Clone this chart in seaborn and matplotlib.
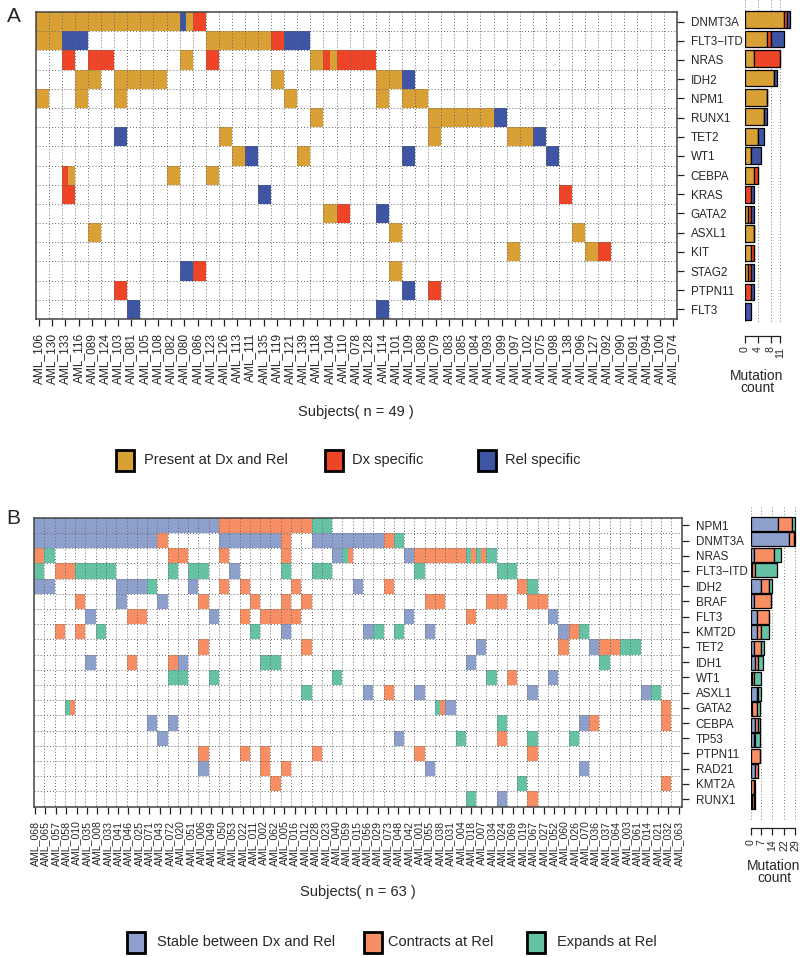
import numpy as np
import pandas as pd
import matplotlib
matplotlib.use("Agg")
import matplotlib.pyplot as plt
from matplotlib.colors import ListedColormap
from matplotlib.patches import Rectangle
import seaborn as sns

# ---------------- panel A data ----------------
subjects_a = ["AML_106", "AML_130", "AML_133", "AML_116", "AML_089", "AML_124", "AML_103",
              "AML_081", "AML_105", "AML_108", "AML_082", "AML_080", "AML_086", "AML_123",
              "AML_126", "AML_113", "AML_111", "AML_135", "AML_119", "AML_121", "AML_139",
              "AML_118", "AML_104", "AML_110", "AML_078", "AML_128", "AML_114", "AML_101",
              "AML_109", "AML_088", "AML_079", "AML_083", "AML_085", "AML_084", "AML_093",
              "AML_099", "AML_097", "AML_102", "AML_075", "AML_098", "AML_138", "AML_096",
              "AML_127", "AML_092", "AML_090", "AML_091", "AML_094", "AML_100", "AML_074"]
genes_a = ["DNMT3A", "FLT3\u2212ITD", "NRAS", "IDH2", "NPM1", "RUNX1", "TET2", "WT1",
           "CEBPA", "KRAS", "GATA2", "ASXL1", "KIT", "STAG2", "PTPN11", "FLT3"]
# one character per subject: P present at Dx and Rel, D Dx specific, R Rel specific
# b = R|P split cell, d = D|P split cell
grid_a = [
    "P" * 11 + "b" + "D" + "." * 36,
    "PPRR" + "." * 9 + "P" * 5 + "D" + "RR" + "." * 28,
    "..D.DD" + "." * 5 + "P" + "." + "D" + "." * 7 + "Pd" + "DDD" + "." * 23,
    "...PP.PPPP" + "." * 8 + "P" + "." * 7 + "PPR" + "." * 20,
    "P..P..P" + "." * 12 + "P" + "." * 6 + "P.PP" + "." * 19,
    "." * 21 + "P" + "." * 8 + "P" * 5 + "R" + "." * 13,
    "." * 6 + "R" + "." * 7 + "P" + "." * 15 + "P" + "." * 5 + "PPR" + "." * 10,
    "." * 15 + "PR..." + "P" + "." * 7 + "R" + "." * 10 + "R" + "." * 9,
    "..d" + "." * 7 + "P..P" + "." * 35,
    "..D" + "." * 14 + "R" + "." * 22 + "D" + "." * 8,
    "." * 22 + "PD..R" + "." * 22,
    "....P" + "." * 22 + "P" + "." * 13 + "P" + "." * 7,
    "." * 36 + "P" + "." * 5 + "PD" + "." * 5,
    "." * 11 + "RD" + "." * 14 + "P" + "." * 21,
    "." * 6 + "D" + "." * 21 + "R.D" + "." * 18,
    "." * 7 + "R" + "." * 18 + "R" + "." * 22,
]
status_a = ["P", "D", "R"]
labels_a = ["Present at Dx and Rel", "Dx specific", "Rel specific"]
colors_a = ["#D9A036", "#EE4428", "#3E55A4"]
split_a = {"b": "RP", "d": "DP"}
ticks_a = [0, 4, 8, 11]

# ---------------- panel B data ----------------
subjects_b = ["AML_068", "AML_065", "AML_057", "AML_058", "AML_010", "AML_035", "AML_008",
              "AML_033", "AML_041", "AML_046", "AML_025", "AML_071", "AML_043", "AML_072",
              "AML_020", "AML_051", "AML_006", "AML_049", "AML_050", "AML_053", "AML_022",
              "AML_011", "AML_002", "AML_062", "AML_005", "AML_016", "AML_012", "AML_028",
              "AML_023", "AML_040", "AML_059", "AML_015", "AML_056", "AML_029", "AML_073",
              "AML_048", "AML_042", "AML_001", "AML_055", "AML_038", "AML_031", "AML_004",
              "AML_018", "AML_007", "AML_034", "AML_024", "AML_069", "AML_019", "AML_067",
              "AML_027", "AML_052", "AML_060", "AML_026", "AML_070", "AML_036", "AML_037",
              "AML_064", "AML_003", "AML_061", "AML_014", "AML_021", "AML_032", "AML_063"]
genes_b = ["NPM1", "DNMT3A", "NRAS", "FLT3\u2212ITD", "IDH2", "BRAF", "FLT3", "KMT2D", "TET2",
           "IDH1", "WT1", "ASXL1", "GATA2", "CEBPA", "TP53", "PTPN11", "RAD21", "KMT2A", "RUNX1"]
# S stable, C contracts at Rel, E expands at Rel, x = E|C split cell
grid_b = [
    "S" * 18 + "C" * 9 + "EE" + "." * 34,
    "S" * 12 + "C" + "." * 5 + "S" * 6 + "C" + ".." + "S" * 7 + "CE" + "." * 27,
    "CE" + "." * 11 + "CC" + "..." + "C" + "." * 5 + "C" + "...." + "Sx" + "." * 5 + "S" + "C" * 5 + "xxE" + "." * 18,
    "E.CCEEEE" + "." * 5 + "E.EE" + ".." + "S" + "...." + "E.." + "EE" + "." * 8 + "E" + "." * 7 + "EE" + "." * 16,
    "SS" + "." * 6 + "SSSE" + "..." + "S" + ".." + "C.C" + "...." + "C" + "." * 5 + "S..C" + "." * 12 + "CE" + "." * 14,
    "....C" + "..." + "S...S" + "..." + "C" + "...." + "C..C.C" + "." * 11 + "CC" + "...." + "CC" + ".." + "CC" + "." * 13,
    "....." + "S" + "..." + "CC" + "." * 6 + "S.." + "C.CCCC" + "." * 10 + "S" + "." * 5 + "C" + "." * 7 + "S" + "." * 12,
    "..C.C.E" + "." * 14 + "E..S" + "." * 7 + "SE.E" + ".." + "S" + "." * 12 + "SCE" + "." * 9,
    "." * 16 + "C" + "." * 9 + "C" + "." * 16 + "S" + "." * 7 + "C.." + "SCCEE" + "....",
    "....." + "S" + "..." + "C" + "..." + "CS" + "." * 7 + "EE" + "." * 18 + "S" + "." * 12 + "E" + "." * 7,
    "." * 13 + "EE.." + "E" + "." * 11 + "E" + "." * 14 + "E.C" + "..." + "S" + "." * 12,
    "." * 26 + "E" + "." * 5 + "S.C..S" + "." * 10 + "S" + "." * 10 + "SE" + "..",
    "...x" + "." * 35 + "xS" + "." * 20 + "C.",
    "." * 11 + "S.S" + "." * 31 + "E" + "." * 7 + "SC" + "." * 6 + "C.",
    "." * 12 + "S" + "." * 22 + "S" + "." * 5 + "E...C..E...E" + "." * 10,
    "." * 16 + "C...C.C....C" + "." * 9 + "C" + "." * 10 + "C" + "." * 14,
    "." * 16 + "S" + "." * 5 + "C.C" + "." * 13 + "S" + "." * 14 + "S" + "." * 9,
    "." * 23 + "C" + "." * 23 + "E" + "." * 13 + "C.",
    "." * 42 + "E..S..C" + "." * 14,
]
status_b = ["S", "C", "E"]
labels_b = ["Stable between Dx and Rel", "Contracts at Rel", "Expands at Rel"]
colors_b = ["#8DA0CB", "#F78E64", "#66C2A5"]
split_b = {"x": "EC"}
ticks_b = [0, 7, 14, 22, 29]

W, H = 800, 958


def box(left, top, right, bottom):
    return [left / W, 1 - bottom / H, (right - left) / W, (bottom - top) / H]


def to_matrix(grid, statuses, splits):
    # two sub-columns per subject so split cells can show both calls
    code = {s: i + 1 for i, s in enumerate(statuses)}
    mat = np.zeros((len(grid), 2 * len(grid[0])))
    for i, row in enumerate(grid):
        for j, ch in enumerate(row):
            if ch == ".":
                continue
            pair = splits.get(ch, ch + ch)
            mat[i, 2 * j] = code[pair[0]]
            mat[i, 2 * j + 1] = code[pair[1]]
    return mat


def to_counts(grid, genes, statuses, splits):
    rows = []
    for row in grid:
        calls = "".join(splits.get(ch, ch) for ch in row if ch != ".")
        rows.append([calls.count(s) for s in statuses])
    return pd.DataFrame(rows, index=genes, columns=statuses)


def draw_panel(fig, grid, genes, subjects, statuses, colors, splits, ticks,
               heat_box, bar_box, bar_xmax, bar_ylim, bar_h, spine_out,
               tick_lo, tick_hi, xfs):
    n = len(subjects)
    mat = to_matrix(grid, statuses, splits)
    ax = fig.add_axes(box(*heat_box))
    sns.heatmap(mat, cmap=ListedColormap(["white"] + colors), vmin=-0.5, vmax=3.5,
                cbar=False, xticklabels=False, yticklabels=False, ax=ax)
    ax.vlines(np.arange(2, 2 * n, 2), 0, len(genes), colors="#666666",
              linestyles=(0, (1, 2.2)), linewidth=0.7)
    ax.hlines(np.arange(1, len(genes)), 0, 2 * n, colors="#666666",
              linestyles=(0, (1, 2.2)), linewidth=0.7)
    ax.set_xticks(2 * np.linspace(tick_lo, tick_hi, n))
    ax.set_xticklabels(subjects, rotation=90, fontsize=xfs)
    ax.set_yticks(np.arange(len(genes)) + 0.5)
    ax.set_yticklabels(genes, fontsize=8.4)
    ax.yaxis.tick_right()
    ax.tick_params(axis="x", bottom=True, length=5, width=0.9, pad=5, color="#222222")
    ax.tick_params(axis="y", left=False, right=True, labelright=True, labelleft=False,
                   length=5, width=0.9, pad=5, color="#222222", rotation=0)
    for sp in ax.spines.values():
        sp.set_visible(True)
        sp.set_color("#444444")
        sp.set_linewidth(1.1)

    counts = to_counts(grid, genes, statuses, splits)
    bx = fig.add_axes(box(*bar_box))
    bx.vlines(ticks, bar_ylim[1], bar_ylim[0], colors="#777777",
              linestyles=(0, (1, 2.2)), linewidth=0.7, zorder=0)
    left = np.zeros(len(genes))
    for s, c in zip(statuses, colors):
        bx.barh(np.arange(len(genes)), counts[s].values, left=left, height=bar_h,
                color=c, edgecolor="black", linewidth=0.9, zorder=2)
        left += counts[s].values
    bx.set_xlim(0, bar_xmax)
    bx.set_ylim(*bar_ylim)
    bx.set_yticks([])
    for name in ["top", "right", "left"]:
        bx.spines[name].set_visible(False)
    bx.spines["bottom"].set_position(("outward", spine_out))
    bx.spines["bottom"].set_bounds(ticks[0], ticks[-1])
    bx.spines["bottom"].set_color("#222222")
    bx.spines["bottom"].set_linewidth(0.9)
    bx.set_xticks(ticks)
    bx.set_xticklabels([str(t) for t in ticks], rotation=90, fontsize=7.6)
    bx.tick_params(axis="x", bottom=True, length=5, width=0.9, pad=3, color="#222222")
    bx.patch.set_alpha(0)


def draw_legend(fig, labels, colors, patch_x, text_x, yc):
    for lab, col, px, tx in zip(labels, colors, patch_x, text_x):
        fig.add_artist(Rectangle((px / W, 1 - (yc + 10.5) / H), 18 / W, 21 / H,
                                 transform=fig.transFigure, facecolor=col,
                                 edgecolor="black", linewidth=2))
        fig.text(tx / W, 1 - yc / H, lab, ha="left", va="center", fontsize=10.5)


sns.set_theme(style="white")
plt.rcParams["font.family"] = ["Liberation Sans", "DejaVu Sans"]

fig = plt.figure(figsize=(8, 9.58), dpi=100)

draw_panel(fig, grid_a, genes_a, subjects_a, status_a, colors_a, split_a, ticks_a,
           heat_box=(35.7, 12, 676.7, 319), bar_box=(744.7, 0, 800, 323),
           bar_xmax=17.0, bar_ylim=(15.59, -1.0), bar_h=0.86, spine_out=9,
           tick_lo=0.25, tick_hi=48.75, xfs=8.6)
draw_panel(fig, grid_b, genes_b, subjects_b, status_b, colors_b, split_b, ticks_b,
           heat_box=(34, 517.7, 681.7, 806.7), bar_box=(750.7, 507, 800, 820),
           bar_xmax=32.2, bar_ylim=(19.15, -1.09), bar_h=0.9, spine_out=6,
           tick_lo=0.1, tick_hi=62.7, xfs=7.6)

fig.text(7 / W, 1 - 17 / H, "A", fontsize=15, ha="left", va="center")
fig.text(6 / W, 1 - 518 / H, "B", fontsize=15, ha="left", va="center")

fig.text(356 / W, 1 - 412 / H, "Subjects( n = 49 )", ha="center", va="center", fontsize=10.5)
fig.text(358 / W, 1 - 892 / H, "Subjects( n = 63 )", ha="center", va="center", fontsize=10.5)
fig.text(757 / W, 1 - 382 / H, "Mutation\ncount", ha="center", va="center",
         fontsize=10, linespacing=0.85)
fig.text(774 / W, 1 - 872 / H, "Mutation\ncount", ha="center", va="center",
         fontsize=10, linespacing=0.85)

draw_legend(fig, labels_a, colors_a, [116, 325, 478], [144, 352, 505], 460)
draw_legend(fig, labels_b, colors_b, [127, 364, 527], [157, 388, 557], 942)

fig.savefig("out.png", dpi=100)
